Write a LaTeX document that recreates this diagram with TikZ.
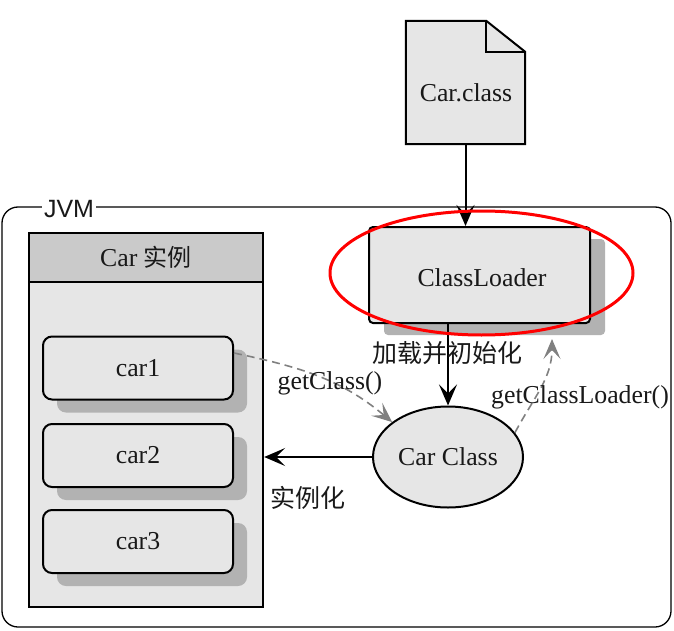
\documentclass[tikz,border=0pt]{standalone}
\usepackage{fontspec}
\setmainfont{Liberation Serif}
\newfontfamily\cjkf{Noto Sans CJK SC}
\newfontfamily\jvmf{Liberation Sans}
\usetikzlibrary{arrows.meta,shadows,shapes.geometric,calc}
\definecolor{boxfill}{RGB}{230,230,230}
\definecolor{hdrfill}{RGB}{202,202,202}
\definecolor{shadowc}{RGB}{178,178,178}
\definecolor{dashc}{RGB}{128,128,128}
\definecolor{txtc}{RGB}{25,25,25}
\begin{document}
\begin{tikzpicture}[x=1pt,y=-1pt,
  every node/.style={font=\fontsize{25.8}{30}\selectfont, text=txtc},
  boxline/.style={draw=black, line width=2pt},
  carbox/.style={boxline, fill=boxfill, rounded corners=9pt, minimum width=190pt, minimum height=63pt, inner sep=0pt,
     drop shadow={shadow xshift=14pt, shadow yshift=-13pt, fill=shadowc, opacity=1}},
  loaderbox/.style={boxline, fill=boxfill, rounded corners=4pt, minimum width=221pt, minimum height=96pt, inner sep=0pt,
     drop shadow={shadow xshift=15pt, shadow yshift=-12pt, fill=shadowc, opacity=1}},
  solidarrow/.style={draw=black, line width=2pt, -{Stealth[length=21pt,width=18pt,inset=9pt]}},
  dasharrow/.style={draw=dashc, line width=1.6pt, dash pattern=on 8pt off 5pt, -{Stealth[length=20pt,width=17pt,inset=9pt,sep=0pt]}},
  lbl/.style={inner sep=1pt},
  cjklbl/.style={inner sep=1pt, font=\fontsize{25}{30}\selectfont\cjkf},
]
\useasboundingbox (0,0) rectangle (674,631);

% JVM frame
\draw[line width=1.3pt, rounded corners=16pt] (2,207) rectangle (671,627);
\node[fill=white, inner xsep=2pt, inner ysep=0pt, font=\fontsize{25}{30}\selectfont\jvmf] (jvm) at (69,209) {JVM};

% Car.class document
\node[minimum width=119pt, minimum height=123pt, inner sep=0pt] (cls) at (465.5,82.5) {};
\filldraw[fill=boxfill, draw=black, line width=2pt, line join=miter]
  (cls.north west) -- ([xshift=-39pt]cls.north east) -- ([yshift=-31pt]cls.north east)
  -- (cls.south east) -- (cls.south west) -- cycle;
\draw[line width=2pt] ([xshift=-39pt]cls.north east) -- ([xshift=-39pt,yshift=-31pt]cls.north east) -- ([yshift=-31pt]cls.north east);
\node[lbl] (clstxt) at (466,93) {Car.class};

% ClassLoader
\node[loaderbox] (cl) at (479.5,275) {};
\node[lbl] (cltxt) at (482,278) {ClassLoader};

% Car instance panel
\node[draw=black, line width=2.4pt, fill=boxfill, minimum width=234pt, minimum height=325pt, inner sep=0pt] (panel) at (146,444.5) {};
\node[draw=black, line width=2.4pt, fill=hdrfill, minimum width=234pt, minimum height=49pt, inner sep=0pt] (hdr) at (146,257.5) {Car {\cjkf\fontsize{24}{28}\selectfont 实例}};

\node[carbox] (car1) at (138,368) {car1};
\node[carbox] (car2) at (138,455.5) {car2};
\node[carbox] (car3) at (138,541.5) {car3};

% Car Class ellipse
\node[ellipse, boxline, fill=boxfill, minimum width=150pt, minimum height=101pt, inner sep=0pt] (cc) at (448,457) {Car Class};

% connectors
\draw[solidarrow] (cls.south) -- (cls.south |- cl.north);
\draw[solidarrow] (cl.south -| cc.north) -- (cc.north);
\draw[solidarrow] (cc.west) -- (panel.east |- cc.west);

\coordinate (clin) at ([xshift=72.5pt,yshift=-15pt]cl.south);
\draw[dasharrow] ([yshift=15pt]car1.east) to[out=-12, in=140] (cc.148);
\draw[dasharrow] (cc.20) to[out=62, in=-90] (clin);

% labels
\node[cjklbl] (l1) at (447,353) {加载并初始化};
\node[lbl] (l2) at (330,383) {getClass()};
\node[lbl] (l3) at (580,397) {getClassLoader()};
\node[cjklbl] (l4) at (308,498) {实例化};

% highlight
\node[ellipse, draw=red, line width=3pt, minimum width=303pt, minimum height=124pt, inner sep=0pt] (hl) at (481.5,273) {};
\end{tikzpicture}
\end{document}
